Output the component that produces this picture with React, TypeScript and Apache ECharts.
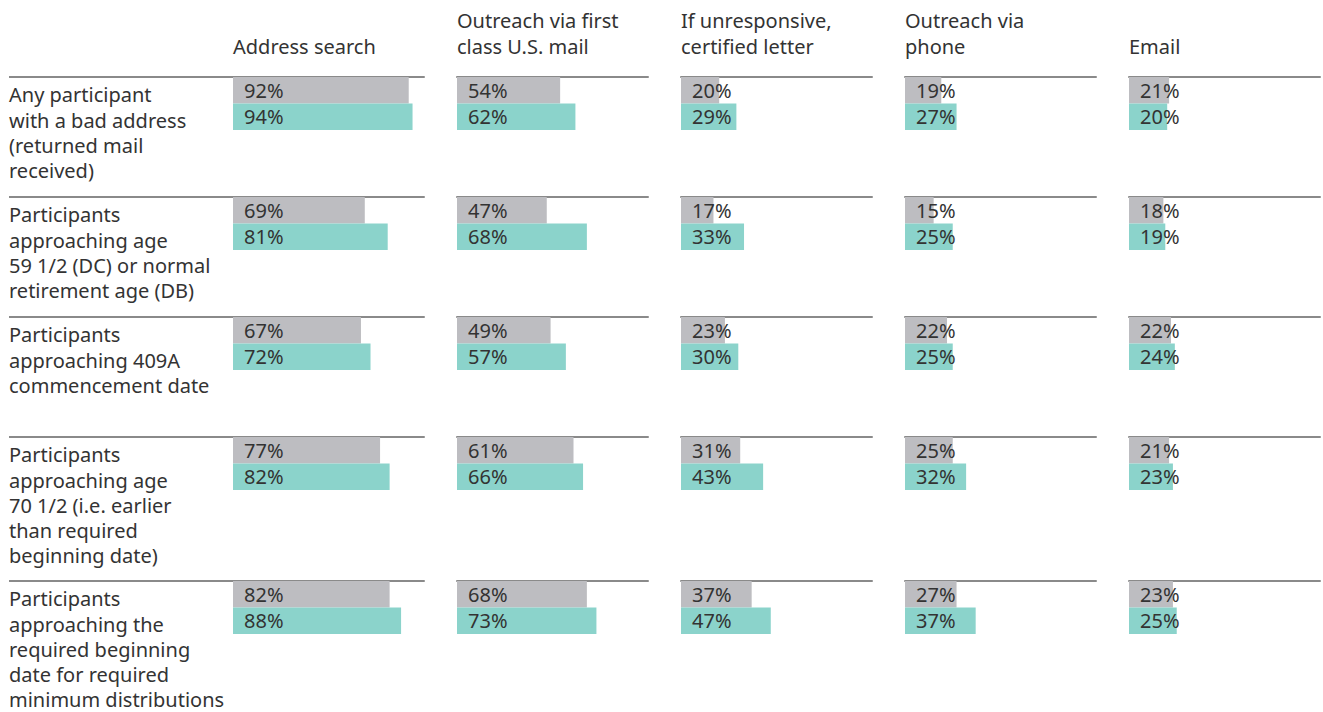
import React, { useEffect, useRef } from "react";
import * as echarts from "echarts";

const columns: string[][] = [
  ["Address search"],
  ["Outreach via first", "class U.S. mail"],
  ["If unresponsive,", "certified letter"],
  ["Outreach via", "phone"],
  ["Email"],
];

const rowLabels: string[][] = [
  ["Any participant", "with a bad address", "(returned mail", "received)"],
  ["Participants", "approaching age", "59 1/2 (DC) or normal", "retirement age (DB)"],
  ["Participants", "approaching 409A", "commencement date"],
  ["Participants", "approaching age", "70 1/2 (i.e. earlier", "than required", "beginning date)"],
  ["Participants", "approaching the", "required beginning", "date for required", "minimum distributions"],
];

// gray (earlier) values per row, columns in order
const grayValues: number[][] = [
  [92, 54, 20, 19, 21],
  [69, 47, 17, 15, 18],
  [67, 49, 23, 22, 22],
  [77, 61, 31, 25, 21],
  [82, 68, 37, 27, 23],
];
// teal (later) values per row
const tealValues: number[][] = [
  [94, 62, 29, 27, 20],
  [81, 68, 33, 25, 19],
  [72, 57, 30, 25, 24],
  [82, 66, 43, 32, 23],
  [88, 73, 47, 37, 25],
];

const GRAY = "#bdbdc1";
const TEAL = "#8bd3cb";
const LINE = "#8a8a8a";
const TEXT = "#333333";
const FONT = "Noto Sans";
const FS = 20;

const colX = [233, 457, 681, 905, 1129];
const colW = 191;
const rowY = [77, 197, 317, 437, 581];
const barBand = 26.5;
const lineH = 25.2;

export default function App() {
  const ref = useRef<HTMLDivElement>(null);
  useEffect(() => {
    if (!ref.current) return;
    const chart = echarts.init(ref.current, null, { renderer: "svg" });
    const grid: any[] = [];
    const xAxis: any[] = [];
    const yAxis: any[] = [];
    const series: any[] = [];
    const graphic: any[] = [];

    columns.forEach((lines, c) => {
      const n = lines.length;
      lines.forEach((t, i) => {
        graphic.push({
          type: "text",
          x: colX[c],
          y: 46 - (n - 1 - i) * 25.5,
          style: {
            text: t,
            fill: TEXT,
            font: `${FS}px "${FONT}"`,
            lineHeight: 20,
            verticalAlign: "middle",
            align: "left",
          },
        });
      });
    });

    rowLabels.forEach((lines, r) => {
      graphic.push({
        type: "line",
        shape: { x1: 9, y1: rowY[r], x2: colX[0], y2: rowY[r] },
        style: { stroke: LINE, lineWidth: 2 },
      });
      lines.forEach((t, i) => {
        graphic.push({
          type: "text",
          x: 9,
          y: rowY[r] + 17.8 + i * lineH,
          style: {
            text: t,
            fill: TEXT,
            font: `${FS}px "${FONT}"`,
            lineHeight: 20,
            verticalAlign: "middle",
            align: "left",
          },
        });
      });
    });

    let idx = 0;
    for (let r = 0; r < rowLabels.length; r++) {
      for (let c = 0; c < columns.length; c++) {
        grid.push({
          left: colX[c],
          top: rowY[r],
          width: colW,
          height: barBand * 2,
          containLabel: false,
        });
        xAxis.push({
          type: "value",
          gridIndex: idx,
          min: 0,
          max: 100,
          position: "top",
          axisLine: { show: true, onZero: false, lineStyle: { color: LINE, width: 2 } },
          axisTick: { show: false },
          axisLabel: { show: false },
          splitLine: { show: false },
        });
        yAxis.push({
          type: "category",
          gridIndex: idx,
          inverse: true,
          data: ["prev", "curr"],
          axisLine: { show: false },
          axisTick: { show: false },
          axisLabel: { show: false },
        });
        series.push({
          type: "bar",
          xAxisIndex: idx,
          yAxisIndex: idx,
          barCategoryGap: "0%",
          z: 1,
          data: [
            { value: grayValues[r][c], itemStyle: { color: GRAY } },
            { value: tealValues[r][c], itemStyle: { color: TEAL } },
          ],
          label: {
            show: true,
            position: "insideLeft",
            distance: 11,
            formatter: "{c}%",
            color: TEXT,
            fontSize: FS,
            fontFamily: FONT,
          },
        });
        idx++;
      }
    }

    chart.setOption({
      animation: false,
      backgroundColor: "#ffffff",
      grid,
      xAxis,
      yAxis,
      series,
      graphic,
    });
    return () => chart.dispose();
  }, []);
  return (
    <div
      ref={ref}
      style={{ position: "fixed", left: 0, top: 0, width: 1323, height: 712 }}
    />
  );
}
